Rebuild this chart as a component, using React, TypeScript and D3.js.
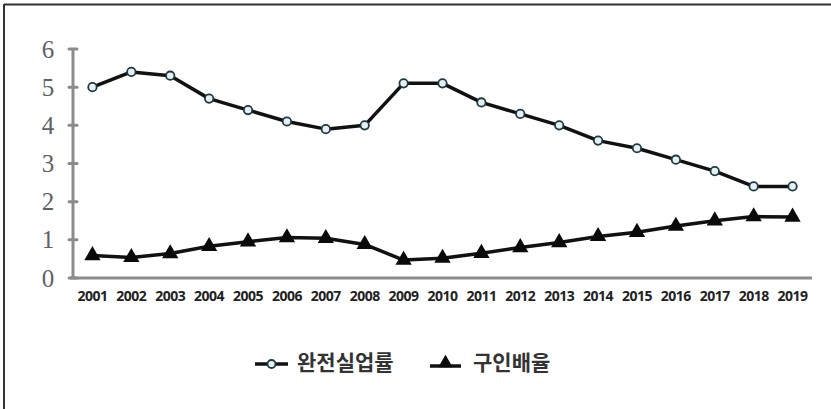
import React from "react";
import * as d3 from "d3";

// Japan: complete unemployment rate (%) and job openings-to-applicants ratio
const years = [
  "2001", "2002", "2003", "2004", "2005", "2006", "2007", "2008", "2009", "2010",
  "2011", "2012", "2013", "2014", "2015", "2016", "2017", "2018", "2019",
];
const unemployment = [5.0, 5.4, 5.3, 4.7, 4.4, 4.1, 3.9, 4.0, 5.1, 5.1, 4.6, 4.3, 4.0, 3.6, 3.4, 3.1, 2.8, 2.4, 2.4];
const jobRatio = [0.59, 0.54, 0.64, 0.83, 0.95, 1.06, 1.04, 0.88, 0.47, 0.52, 0.65, 0.8, 0.93, 1.09, 1.2, 1.36, 1.5, 1.61, 1.6];
const yTicks = [0, 1, 2, 3, 4, 5, 6];
const seriesNames = ["완전실업률", "구인배율"];

const W = 831;
const H = 409;

export default function App() {
  const x = d3.scalePoint<string>().domain(years).range([73, 812]).padding(0.5);
  const y = d3.scaleLinear().domain([0, 6]).range([278, 49]);

  const line = d3
    .line<number>()
    .x((_, i) => x(years[i]) as number)
    .y((d) => y(d))
    .curve(d3.curveLinear);

  const tri = d3.symbol().type(d3.symbolTriangle).size(115)();
  const triSmall = d3.symbol().type(d3.symbolTriangle).size(90)();

  const axisGray = "#8c8c8c";

  return (
    <svg
      width={W}
      height={H}
      viewBox={`0 0 ${W} ${H}`}
      style={{ position: "absolute", left: 0, top: 0, background: "#fff" }}
    >
      {/* frame: top and left edges */}
      <line x1={4} y1={4.5} x2={W} y2={4.5} stroke="#333" strokeWidth={2} />
      <line x1={4} y1={4} x2={4} y2={H} stroke="#333" strokeWidth={2} />

      {/* y axis */}
      <line x1={73} y1={y(6)} x2={73} y2={y(0)} stroke={axisGray} strokeWidth={3} />
      {yTicks.map((t) => (
        <g key={t}>
          <line x1={69} x2={77} y1={y(t)} y2={y(t)} stroke={axisGray} strokeWidth={3} strokeLinecap="round" />
          <text
            x={48}
            y={y(t)}
            dy="0.34em"
            textAnchor="middle"
            fontFamily="'Liberation Serif', 'DejaVu Serif', serif"
            fontSize={25}
            fill="#5e6264"
          >
            {t}
          </text>
        </g>
      ))}

      {/* x axis */}
      <line x1={70} x2={812} y1={y(0)} y2={y(0)} stroke={axisGray} strokeWidth={3} />
      {years.map((yr) => (
        <text
          key={yr}
          x={x(yr) as number}
          y={296}
          dy="0.36em"
          textAnchor="middle"
          fontFamily="'Open Sans', 'DejaVu Sans', sans-serif"
          fontWeight={700}
          fontSize={14}
          letterSpacing={-0.5}
          fill="#222"
        >
          {yr}
        </text>
      ))}

      {/* unemployment rate */}
      <path d={line(unemployment) ?? ""} fill="none" stroke="#111" strokeWidth={3.5} strokeLinejoin="round" />
      {unemployment.map((v, i) => (
        <circle
          key={years[i]}
          cx={x(years[i]) as number}
          cy={y(v)}
          r={4.2}
          fill="#e6f0f2"
          stroke="#1d3a42"
          strokeWidth={1.8}
        />
      ))}

      {/* job openings ratio */}
      <path d={line(jobRatio) ?? ""} fill="none" stroke="#111" strokeWidth={3.5} strokeLinejoin="round" />
      {jobRatio.map((v, i) => (
        <path key={years[i]} d={tri ?? ""} transform={`translate(${x(years[i])},${y(v)})`} fill="#0a0a0a" />
      ))}

      {/* legend */}
      <g>
        <line x1={255} x2={288} y1={364} y2={364} stroke="#111" strokeWidth={3.5} />
        <circle cx={271.5} cy={364} r={4} fill="#e6f0f2" stroke="#1d3a42" strokeWidth={1.8} />
        <text
          x={297}
          y={362}
          dy="0.36em"
          fontFamily="'Noto Sans CJK KR', sans-serif"
          fontWeight={700}
          fontSize={21}
          fill="#333"
        >
          {seriesNames[0]}
        </text>
        <line x1={430} x2={461} y1={366} y2={366} stroke="#111" strokeWidth={3.5} />
        <path d={triSmall ?? ""} transform="translate(445.5,363)" fill="#0a0a0a" />
        <text
          x={473}
          y={362}
          dy="0.36em"
          fontFamily="'Noto Sans CJK KR', sans-serif"
          fontWeight={700}
          fontSize={21}
          fill="#333"
        >
          {seriesNames[1]}
        </text>
      </g>
    </svg>
  );
}
